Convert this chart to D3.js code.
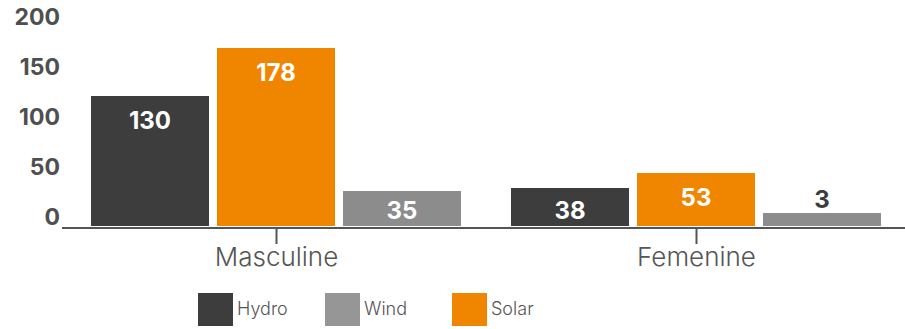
<!DOCTYPE html>
<html>
<head>
<meta charset="utf-8">
<script src="https://cdn.jsdelivr.net/npm/d3@7"></script>
<style>
  body { margin: 0; background: #fff; }
  svg { display: block; font-family: Inter, "Open Sans", sans-serif; }
</style>
</head>
<body>
<svg id="chart"></svg>
<script>
// chart data
const groups = ['Masculine', 'Femenine'];
const seriesKeys = ['Hydro', 'Solar', 'Wind'];   // bar order inside a group
const legendKeys = ['Hydro', 'Wind', 'Solar'];   // legend order
const hydroValues = [130, 38];
const solarValues = [178, 53];
const windValues = [35, 3];
const yTicks = [0, 50, 100, 150, 200];

const colors = { Hydro: '#3d3d3d', Solar: '#f08600', Wind: '#8c8c8c' };

const dim = { width: 905, height: 329 };
const svg = d3.select('#chart')
  .attr('width', dim.width)
  .attr('height', dim.height);

const valuesByKey = { Hydro: hydroValues, Solar: solarValues, Wind: windValues };
const rows = groups.map((g, i) => ({
  group: g,
  bars: seriesKeys.map(k => ({ key: k, value: valuesByKey[k][i] }))
}));

// scales
const y = d3.scaleLinear().domain([0, 200]).range([226, 26]);
const x0 = d3.scaleBand().domain(groups).range([66, 906]);
const x1 = d3.scaleBand().domain(seriesKeys).range([25, 395]).paddingInner(0.0635);

// y axis: labels only, sitting just above their value
const yAxis = svg.append('g')
  .attr('transform', 'translate(62,0)')
  .call(d3.axisLeft(y).tickValues(yTicks).tickSize(0).tickPadding(2));
yAxis.select('.domain').remove();
yAxis.selectAll('text')
  .attr('dy', '-2px')
  .attr('fill', '#4f4f4f')
  .style('font-size', '23px')
  .style('font-weight', 700)
  .style('font-family', 'Inter, sans-serif');

// bars
const minBar = 13; // tiny values still get a visible bar
const groupSel = svg.selectAll('.group')
  .data(rows)
  .join('g')
  .attr('class', 'group')
  .attr('transform', d => `translate(${x0(d.group)},0)`);

groupSel.selectAll('rect')
  .data(d => d.bars)
  .join('rect')
  .attr('x', d => x1(d.key))
  .attr('width', x1.bandwidth())
  .attr('y', d => Math.min(y(d.value), y(0) - minBar))
  .attr('height', d => Math.max(y(0) - y(d.value), minBar))
  .attr('fill', d => colors[d.key]);

// value labels: white inside the bar, dark above it when the bar is too short
groupSel.selectAll('.value')
  .data(d => d.bars)
  .join('text')
  .attr('class', 'value')
  .attr('x', d => x1(d.key) + x1.bandwidth() / 2)
  .attr('y', d => {
    const top = y(d.value);
    if (y(0) - top < 20) return y(0) - minBar - 14;
    return Math.min(top + 24, 210);
  })
  .attr('dy', '0.36em')
  .attr('text-anchor', 'middle')
  .attr('fill', d => (y(0) - y(d.value) < 20 ? '#3d3d3d' : '#fff'))
  .style('font-size', '24px')
  .style('font-weight', 700)
  .text(d => d.value);

// x axis line with ticks at group centres
const xAxis = svg.append('g')
  .attr('transform', 'translate(0,228)')
  .call(d3.axisBottom(d3.scalePoint().domain(groups).range([276, 696]))
    .tickSize(16).tickPadding(4).tickSizeOuter(0));
xAxis.select('.domain')
  .attr('d', 'M62,0H905')
  .attr('stroke', '#555')
  .attr('stroke-width', 2);
xAxis.selectAll('.tick line')
  .attr('stroke', '#555')
  .attr('stroke-width', 2);
xAxis.selectAll('.tick text')
  .attr('fill', '#555')
  .style('font-size', '26px')
  .style('font-weight', 300)
  .style('font-family', 'Inter, sans-serif');

// legend
const legend = svg.append('g')
  .attr('transform', 'translate(198,293)');

legendKeys.forEach((k, i) => {
  const item = legend.append('g')
    .attr('transform', `translate(${i * 127},0)`);
  item.append('rect')
    .attr('width', 35)
    .attr('height', 33)
    .attr('fill', k === 'Wind' ? '#969696' : colors[k]);
  item.append('text')
    .attr('x', 39)
    .attr('y', 16)
    .attr('dy', '0.35em')
    .attr('fill', '#555')
    .style('font-size', '18px')
    .style('font-weight', 300)
    .text(k);
});
</script>
</body>
</html>
